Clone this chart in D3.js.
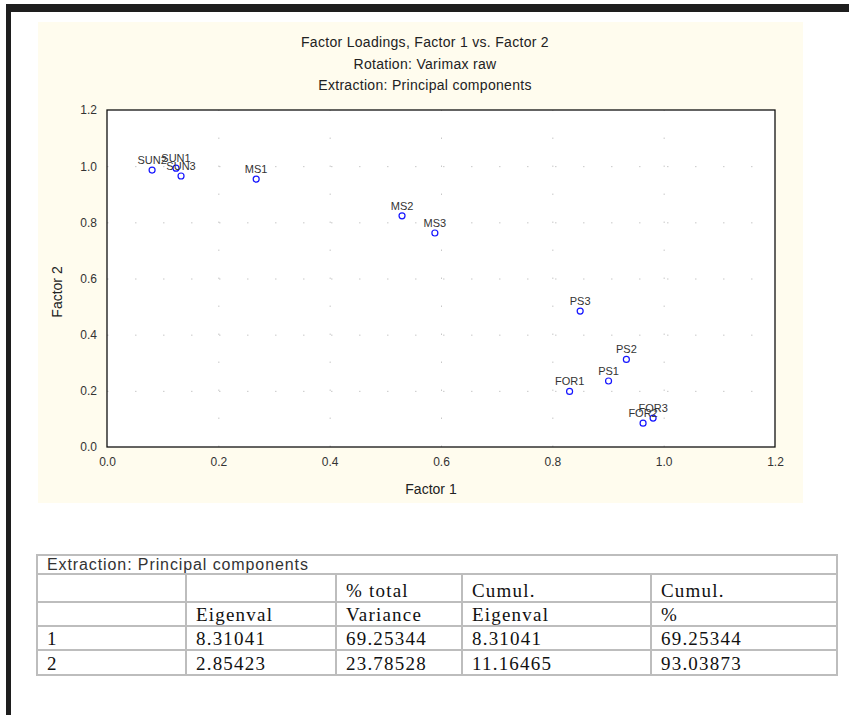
<!DOCTYPE html>
<html>
<head>
<meta charset="utf-8">
<script src="https://cdn.jsdelivr.net/npm/d3@7"></script>
<style>
  body { margin: 0; background: #fff; }
  .sans { font-family: "Liberation Sans", Arial, sans-serif; }
  .serif { font-family: "Liberation Serif", "Times New Roman", serif; }
</style>
</head>
<body>
<div id="chart"></div>
<script>
// factor loadings
var varNames = ["SUN2", "SUN1", "SUN3", "MS1", "MS2", "MS3", "PS3", "PS2", "PS1", "FOR1", "FOR3", "FOR2"];
var factor1 = [0.081, 0.124, 0.133, 0.268, 0.530, 0.589, 0.850, 0.933, 0.901, 0.831, 0.981, 0.963];
var factor2 = [0.986, 0.993, 0.965, 0.954, 0.823, 0.762, 0.484, 0.312, 0.235, 0.198, 0.103, 0.085];
var tickVals = [0, 0.2, 0.4, 0.6, 0.8, 1.0, 1.2];
var titleLines = ["Factor Loadings, Factor 1 vs. Factor 2", "Rotation: Varimax raw", "Extraction: Principal components"];

// eigenvalue table
var tableCaption = "Extraction: Principal components";
var headRow1 = ["", "", "% total", "Cumul.", "Cumul."];
var headRow2 = ["", "Eigenval", "Variance", "Eigenval", "%"];
var rowIds = ["1", "2"];
var eigenvals = ["8.31041", "2.85423"];
var pctTotal = ["69.25344", "23.78528"];
var cumEigen = ["8.31041", "11.16465"];
var cumPct = ["69.25344", "93.03873"];

var W = 849, H = 715;
var svg = d3.select("#chart").append("svg")
  .attr("width", W).attr("height", H);

// page borders
svg.append("rect").attr("x", 6).attr("y", 4).attr("width", W - 6).attr("height", 8).attr("fill", "#1e1e1e");
svg.append("rect").attr("x", 6).attr("y", 4).attr("width", 5).attr("height", H - 4).attr("fill", "#1e1e1e");

// chart background
svg.append("rect").attr("x", 38).attr("y", 22).attr("width", 765).attr("height", 481).attr("fill", "#fffcee");

var pl = 107, pr = 775, pt = 110, pb = 447;
var x = d3.scaleLinear().domain([0, 1.2]).range([pl, pr]);
var y = d3.scaleLinear().domain([0, 1.2]).range([pb, pt]);

svg.append("rect").attr("x", pl).attr("y", pt).attr("width", pr - pl).attr("height", pb - pt)
  .attr("fill", "#fff");

// dotted grid
var gx = svg.append("g").attr("transform", "translate(0," + pb + ")")
  .call(d3.axisBottom(x).tickValues(tickVals.slice(1, -1)).tickSize(-(pb - pt)).tickFormat(""));
var gy = svg.append("g").attr("transform", "translate(" + pl + ",0)")
  .call(d3.axisLeft(y).tickValues(tickVals.slice(1, -1)).tickSize(-(pr - pl)).tickFormat(""));
[gx, gy].forEach(function(g) {
  g.select(".domain").remove();
  g.selectAll("line").attr("stroke", "#c8c8c8").attr("stroke-dasharray", "1.5,26.5");
});

svg.append("rect").attr("x", pl).attr("y", pt).attr("width", pr - pl).attr("height", pb - pt)
  .attr("fill", "none").attr("stroke", "#111").attr("stroke-width", 1.3);

// tick labels
var ax = svg.append("g").attr("transform", "translate(0," + pb + ")")
  .call(d3.axisBottom(x).tickValues(tickVals).tickSize(0).tickPadding(10).tickFormat(d3.format(".1f")));
var ay = svg.append("g").attr("transform", "translate(" + pl + ",0)")
  .call(d3.axisLeft(y).tickValues(tickVals).tickSize(0).tickPadding(10).tickFormat(d3.format(".1f")));
[ax, ay].forEach(function(g) {
  g.attr("font-family", null);
  g.select(".domain").remove();
  g.selectAll("text").attr("class", "sans").attr("font-size", 12).attr("fill", "#333");
});

// titles
svg.selectAll(".title").data(titleLines).enter().append("text")
  .attr("class", "sans")
  .attr("x", 425).attr("y", function(d, i) { return 47 + i * 21.5; })
  .attr("text-anchor", "middle").attr("font-size", 14).attr("letter-spacing", 0.3).attr("fill", "#222")
  .text(function(d) { return d; });

svg.append("text").attr("class", "sans").attr("x", 431).attr("y", 494).attr("text-anchor", "middle")
  .attr("font-size", 14).attr("fill", "#222").text("Factor 1");
svg.append("text").attr("class", "sans").attr("transform", "translate(62,292) rotate(-90)").attr("text-anchor", "middle")
  .attr("font-size", 14).attr("fill", "#222").text("Factor 2");

// points
var pts = varNames.map(function(n, i) { return { name: n, f1: factor1[i], f2: factor2[i] }; });
svg.selectAll(".pt").data(pts).enter().append("circle")
  .attr("class", "pt")
  .attr("cx", function(d) { return x(d.f1); })
  .attr("cy", function(d) { return y(d.f2); })
  .attr("r", 3).attr("fill", "#fff").attr("stroke", "#1515ff").attr("stroke-width", 1.2);
svg.selectAll(".lbl").data(pts).enter().append("text")
  .attr("class", "sans lbl")
  .attr("x", function(d) { return x(d.f1); })
  .attr("y", function(d) { return y(d.f2) - 6; })
  .attr("text-anchor", "middle").attr("font-size", 11).attr("fill", "#333")
  .text(function(d) { return d.name; });

// table
var colX = [37, 186, 336, 462, 651, 837];
var rowY = [555, 574, 602, 626, 650, 675];
var tbl = svg.append("g");
var rows = [headRow1, headRow2].concat(rowIds.map(function(id, i) {
  return [id, eigenvals[i], pctTotal[i], cumEigen[i], cumPct[i]];
}));

tbl.append("rect").attr("x", colX[0]).attr("y", rowY[0])
  .attr("width", colX[5] - colX[0]).attr("height", rowY[5] - rowY[0])
  .attr("fill", "#fff").attr("stroke", "#bdbdbd").attr("stroke-width", 2);
tbl.selectAll(".hl").data(rowY.slice(1, -1)).enter().append("line")
  .attr("x1", colX[0]).attr("x2", colX[5])
  .attr("y1", function(d) { return d; }).attr("y2", function(d) { return d; })
  .attr("stroke", "#bdbdbd").attr("stroke-width", 2);
tbl.selectAll(".vl").data(colX.slice(1, -1)).enter().append("line")
  .attr("x1", function(d) { return d; }).attr("x2", function(d) { return d; })
  .attr("y1", rowY[1]).attr("y2", rowY[5])
  .attr("stroke", "#bdbdbd").attr("stroke-width", 2);

tbl.append("text").attr("class", "sans").attr("x", colX[0] + 10).attr("y", rowY[1] - 4)
  .attr("font-size", 16).attr("letter-spacing", 0.9).attr("fill", "#333").text(tableCaption);

rows.forEach(function(r, ri) {
  tbl.selectAll(".c" + ri).data(r).enter().append("text")
    .attr("class", "serif c" + ri)
    .attr("x", function(d, ci) { return colX[ci] + 10; })
    .attr("y", rowY[ri + 2] - 5)
    .attr("font-size", 19).attr("letter-spacing", 1.2).attr("fill", "#111")
    .text(function(d) { return d; });
});
</script>
</body>
</html>
